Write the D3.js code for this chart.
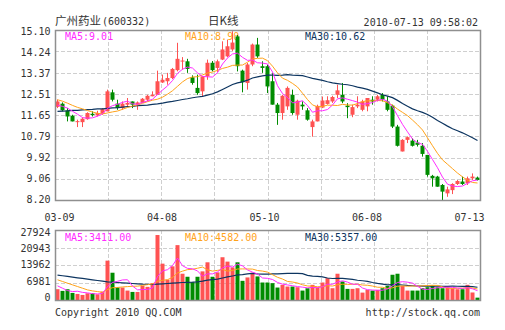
<!DOCTYPE html>
<html><head><meta charset="utf-8">
<script src="https://cdn.jsdelivr.net/npm/d3@7"></script>
<style>body{margin:0;background:#fff}svg{display:block}</style>
</head><body>
<svg id="c" width="505" height="330"></svg>
<script>
// ---------- data ----------
const stockName = "广州药业";
const stockCode = "(600332)";
const chartTitle = "日K线";
const timeStamp = "2010-07-13 09:58:02";
const dateLabels = ["03-09", "04-08", "05-10", "06-08", "07-13"];
const priceTicks = [15.10, 14.24, 13.37, 12.51, 11.65, 10.79, 9.92, 9.06, 8.20];
const volTicks = [27924, 20943, 13962, 6981, 0];
const priceMaLabels = ["MA5:9.01", "MA10:8.90", "MA30:10.62"];
const volMaLabels = ["MA5:3411.00", "MA10:4582.00", "MA30:5357.00"];

const open  = [11.98,12.11,11.84,11.62,11.36,11.36,11.48,11.70,11.63,11.70,11.80,12.57,12.11,11.93,12.07,12.20,12.07,12.14,12.27,12.41,
               12.47,12.97,13.02,13.15,13.47,13.82,13.83,13.18,12.75,12.61,13.22,13.77,13.56,13.90,14.03,14.31,14.84,13.45,12.95,13.70,
               14.51,13.63,13.63,13.02,12.07,11.73,12.00,12.47,11.66,12.07,11.84,11.16,11.39,11.95,12.10,12.20,12.47,12.47,12.03,11.66,
               12.00,11.86,12.00,12.27,12.27,12.47,12.20,12.03,11.18,10.17,10.64,10.61,10.53,10.40,10.03,9.18,9.15,8.81,8.47,8.60,
               8.85,8.95,8.88,9.08,9.11];
const high  = [12.28,12.16,11.93,11.66,11.46,11.56,11.76,11.80,11.82,11.93,12.68,12.68,12.27,12.20,12.34,12.20,12.20,12.34,12.47,12.61,
               13.45,13.29,13.36,13.56,14.58,14.00,13.93,13.26,13.29,13.22,13.90,13.84,13.90,14.64,14.71,15.05,14.90,13.49,13.76,14.55,
               14.78,13.83,13.70,13.36,12.14,12.47,12.81,12.68,12.27,12.20,11.93,11.46,12.07,12.40,12.41,12.43,12.88,12.95,12.13,12.07,
               12.41,12.27,12.34,12.41,12.47,12.54,12.41,12.07,11.25,10.67,10.78,10.71,10.64,10.51,10.03,9.22,9.18,8.85,8.74,8.88,
               9.01,9.15,9.15,9.28,9.15];
const low   = [11.93,11.80,11.39,11.39,11.16,11.16,11.46,11.59,11.59,11.66,11.80,12.20,11.86,11.86,12.00,11.93,11.86,12.14,12.20,12.41,
               12.47,12.95,12.88,13.11,13.42,13.49,13.36,12.88,12.47,12.40,13.08,13.42,13.40,13.88,13.99,14.25,13.42,12.57,12.68,13.63,
               13.97,13.36,12.54,12.07,11.25,11.46,11.86,11.66,11.46,11.86,11.42,10.77,11.39,11.93,12.07,12.14,12.34,12.13,11.52,11.56,
               11.93,11.80,11.80,12.07,12.20,12.20,11.80,11.12,10.37,10.17,10.51,10.37,10.37,9.96,9.15,8.74,8.74,8.20,8.33,8.44,
               8.81,8.81,8.81,9.01,8.99];
const close = [12.20,11.84,11.59,11.39,11.40,11.50,11.73,11.65,11.73,11.89,12.61,12.27,11.93,12.11,12.14,12.07,12.16,12.31,12.43,12.47,
               13.02,13.08,13.15,13.52,13.93,13.86,13.52,12.95,12.54,13.22,13.77,13.47,13.83,14.31,14.44,14.59,13.63,12.98,13.70,14.51,
               14.03,13.56,12.81,12.07,11.73,12.43,12.75,11.73,12.23,12.00,11.46,11.39,12.02,12.24,12.25,12.38,12.65,12.20,11.97,11.97,
               12.07,12.20,12.34,12.20,12.41,12.27,11.86,11.18,10.40,10.64,10.75,10.40,10.44,10.07,9.22,9.08,8.74,8.54,8.63,8.85,
               8.97,8.85,9.08,9.15,9.01];
const volume = [4300,3630,4300,2820,2420,2010,2690,2690,2280,3360,15700,10880,5100,4970,3760,3220,3220,5640,5240,6720,
                25920,14500,8060,13430,21890,10480,9270,7120,9270,11420,15040,9270,11010,17060,15310,13000,15040,7650,9000,10880,
                9400,6980,6980,6710,4970,6040,5370,5370,5100,3760,4700,6040,4970,6980,8730,4700,10480,7390,4430,4430,
                4700,2950,4030,3760,4030,4700,5640,10070,10480,5640,3760,3760,3760,4700,5100,5640,5100,4700,5100,4700,
                4300,4300,6040,3000,940];

// moving-average values before enough history is visible on the chart
const ma5Head  = [12.05,12.00,11.93,11.80];
const ma10Head = [12.27,12.21,12.13,12.04,11.96,11.90,11.83,11.77,11.72];
const ma30Head = [11.80,11.81,11.82,11.84,11.84,11.86,11.87,11.88,11.90,11.90,11.92,11.94,11.95,11.97,11.99,12.00,12.03,12.04,12.05,12.08,
                  12.10,12.13,12.17,12.20,12.24,12.28,12.31,12.35,12.38];
const vma5Head  = [5640,4700,3760,3360];
const vma10Head = [8060,7390,6710,6040,5370,4700,4030,3630,3360];
const vma30Head = [9940,9670,9400,9130,8860,8600,8330,8060,7790,7520,7250,7120,6980,6850,6700,6580,6450,6320,6250,6180,
                   6300,6450,6580,6720,6850,6980,7050,7120,7250];

// ---------- drawing ----------
const N = close.length;
const svg = d3.select("#c");
const L = 55, R = 480, PT = 30, PB = 200, VT = 230, VB = 300;
const COL = {up:"#ff5252", down:"#008c00", ma5:"#ff2cff", ma10:"#ffa31a", ma30:"#0d3560", grid:"#cfcfcf", frame:"#8f8f8f", text:"#333"};
const MONO = "'DejaVu Sans Mono', monospace";
const CJK = "'Noto Sans CJK SC', sans-serif";

const x = d3.scaleBand().domain(d3.range(N)).range([L, R]).paddingInner(0.2).paddingOuter(0.1);
const cx = i => x(i) + x.bandwidth() / 2;
const y = d3.scaleLinear().domain([8.20, 15.10]).range([PB, PT]);
const yv = d3.scaleLinear().domain([0, 27924]).range([VB, VT]);
const gridX = d3.scaleLinear().domain([0, 8]).range([L, R]);
const dateX = d3.scaleLinear().domain([0, dateLabels.length - 1]).range([L + 4.5, R - 10.5]);
const priceLab = d3.scaleLinear().domain([15.10, 8.20]).range([PT + 5, PB + 3.3]);
const volLab = d3.scaleLinear().domain([27924, 0]).range([VT + 6, VB + 0.7]);

function ma(arr, n, head) {
  return arr.map((_, i) => i < head.length ? head[i] : d3.mean(arr.slice(i - n + 1, i + 1)));
}
const ma5 = ma(close, 5, ma5Head), ma10 = ma(close, 10, ma10Head), ma30 = ma(close, 30, ma30Head);
const vma5 = ma(volume, 5, vma5Head), vma10 = ma(volume, 10, vma10Head), vma30 = ma(volume, 30, vma30Head);

// grids
function grid(top, bottom, hVals, scale) {
  const g = svg.append("g").attr("stroke", COL.grid).attr("stroke-dasharray", "4,2").attr("stroke-width", 1);
  d3.range(1, 8).forEach(k => {
    const gx = Math.round(gridX(k)) + 0.5;
    g.append("line").attr("x1", gx).attr("x2", gx).attr("y1", top).attr("y2", bottom);
  });
  hVals.forEach(v => {
    const gy = Math.round(scale(v)) + 0.5;
    g.append("line").attr("x1", L).attr("x2", R).attr("y1", gy).attr("y2", gy);
  });
}
grid(PT, PB, priceTicks.slice(1, -1), y);
grid(VT, VB, volTicks.slice(1, -1), yv);

// titles
const t = svg.append("g").attr("fill", COL.text);
t.append("text").attr("x", L).attr("y", 25).attr("font-family", CJK).attr("font-size", 11.5).text(stockName);
t.append("text").attr("x", 102).attr("y", 25).attr("font-family", MONO).attr("font-size", 10).text(stockCode);
t.append("text").attr("x", 208).attr("y", 25).attr("font-family", CJK).attr("font-size", 11.5).text(chartTitle);
t.append("text").attr("x", R - 2).attr("y", 26).attr("text-anchor", "end").attr("font-family", MONO).attr("font-size", 10).text(timeStamp);

// axis labels
const ax = svg.append("g").attr("fill", COL.text).attr("font-family", MONO).attr("font-size", 10).attr("text-anchor", "end");
priceTicks.forEach(v => ax.append("text").attr("x", 50.5).attr("y", priceLab(v)).text(v.toFixed(2)));
volTicks.forEach(v => ax.append("text").attr("x", 50.5).attr("y", volLab(v)).text(v));
dateLabels.forEach((d, k) => svg.append("text").attr("x", dateX(k)).attr("y", 221).attr("text-anchor", "middle")
  .attr("font-family", MONO).attr("font-size", 10).attr("fill", COL.text).text(d));

// MA labels
const maCols = [COL.ma5, COL.ma10, COL.ma30];
const labX = d3.scaleLinear().domain([0, 2]).range([65, 305]);
priceMaLabels.forEach((s, k) => svg.append("text").attr("x", labX(k)).attr("y", 39.5).attr("fill", maCols[k])
  .attr("font-family", MONO).attr("font-size", 10).text(s));
volMaLabels.forEach((s, k) => svg.append("text").attr("x", labX(k)).attr("y", 240.5).attr("fill", maCols[k])
  .attr("font-family", MONO).attr("font-size", 10).text(s));

// candles
const cg = svg.append("g");
d3.range(N).forEach(i => {
  const up = close[i] >= open[i];
  const c = up ? COL.up : COL.down;
  const wx = Math.floor(cx(i)) + 0.5;
  cg.append("line").attr("x1", wx).attr("x2", wx).attr("y1", y(high[i])).attr("y2", y(low[i])).attr("stroke", c).attr("stroke-width", 1);
  const top = y(Math.max(open[i], close[i])), bot = y(Math.min(open[i], close[i]));
  cg.append("rect").attr("x", Math.floor(cx(i)) - 1.5).attr("width", 4).attr("y", top).attr("height", Math.max(1, bot - top)).attr("fill", c);
  // volume
  cg.append("rect").attr("x", Math.floor(cx(i)) - 1.5).attr("width", 4).attr("y", yv(volume[i])).attr("height", VB - yv(volume[i])).attr("fill", c);
});

// MA lines
function drawLine(vals, scale, col, w) {
  svg.append("path").datum(vals).attr("fill", "none").attr("stroke", col).attr("stroke-width", w)
    .attr("d", d3.line().x((d, i) => cx(i)).y(d => scale(d)));
}
drawLine(ma30, y, COL.ma30, 1.2); drawLine(ma10, y, COL.ma10, 1); drawLine(ma5, y, COL.ma5, 1);
drawLine(vma30, yv, COL.ma30, 1.2); drawLine(vma10, yv, COL.ma10, 1); drawLine(vma5, yv, COL.ma5, 1);

// frames
[[PT, PB], [VT, VB]].forEach(([a, b]) => svg.append("rect").attr("x", L + 0.5).attr("y", a + 0.5).attr("width", R - L).attr("height", b - a)
  .attr("fill", "none").attr("stroke", COL.frame).attr("stroke-width", 1.5));

// footer
svg.append("text").attr("x", L).attr("y", 316).attr("font-family", MONO).attr("font-size", 10).attr("fill", COL.text).text("Copyright 2010 QQ.COM");
svg.append("text").attr("x", R).attr("y", 316).attr("text-anchor", "end").attr("font-family", MONO).attr("font-size", 10).attr("fill", COL.text).text("http://stock.qq.com");
</script>
</body></html>
